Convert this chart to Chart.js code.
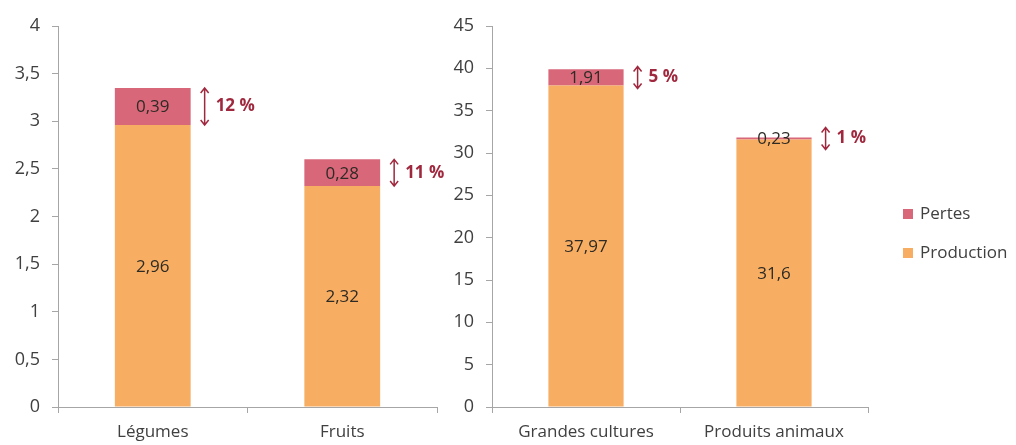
<!DOCTYPE html>
<html>
<head>
<meta charset="utf-8">
<script src="https://cdn.jsdelivr.net/npm/chart.js@4"></script>
<style>
  html, body { margin: 0; padding: 0; background: #fff; }
  #wrap { position: relative; width: 1016px; height: 445px; overflow: hidden; }
  canvas { position: absolute; top: 0; }
</style>
</head>
<body>
<div id="wrap">
  <canvas id="c1" width="462" height="445" style="left:0"></canvas>
  <canvas id="c2" width="576" height="445" style="left:440px"></canvas>
</div>
<script>
// ---- Data ----
const categoriesLeft = ['Légumes', 'Fruits'];
const productionLeft = [2.96, 2.32];
const pertesLeft = [0.39, 0.28];
const pctLeft = ['12 %', '11 %'];
const ticksLeft = { min: 0, max: 4, step: 0.5 };

const categoriesRight = ['Grandes cultures', 'Produits animaux'];
const productionRight = [37.97, 31.6];
const pertesRight = [1.91, 0.23];
const pctRight = ['5 %', '1 %'];
const ticksRight = { min: 0, max: 45, step: 5 };

const seriesLabels = ['Production', 'Pertes'];
const colProduction = '#f7ae63';
const colPertes = '#d9677a';
const colArrow = '#a0283e';
const colText = '#404040';
const FONT = '"Open Sans", Lato, sans-serif';

const fmt = v => String(Math.round(v * 100) / 100).replace('.', ',');

const labelsPlugin = {
  id: 'labelsPlugin',
  afterDatasetsDraw(chart, args, opts) {
    const ctx = chart.ctx;
    ctx.save();
    ctx.font = '17px ' + FONT;
    ctx.fillStyle = '#2e2a24';
    ctx.textAlign = 'center';
    ctx.textBaseline = 'middle';
    chart.data.datasets.forEach((ds, di) => {
      const meta = chart.getDatasetMeta(di);
      meta.data.forEach((el, i) => {
        const cy = (el.y + el.base) / 2;
        ctx.fillText(fmt(ds.data[i]), el.x, cy + 1);
      });
    });
    // arrows + pct
    const metaTop = chart.getDatasetMeta(1);
    metaTop.data.forEach((el, i) => {
      const right = el.x + el.width / 2;
      const ax = right + 14;
      const cy = (el.y + el.base) / 2;
      const half = Math.max((el.base - el.y) / 2, 11);
      const y1 = cy - half, y2 = cy + half;
      ctx.strokeStyle = colArrow;
      ctx.lineWidth = 1.5;
      ctx.beginPath();
      ctx.moveTo(ax, y1 + 1); ctx.lineTo(ax, y2 - 1);
      ctx.moveTo(ax - 4, y1 + 5); ctx.lineTo(ax, y1); ctx.lineTo(ax + 4, y1 + 5);
      ctx.moveTo(ax - 4, y2 - 5); ctx.lineTo(ax, y2); ctx.lineTo(ax + 4, y2 - 5);
      ctx.stroke();
      ctx.fillStyle = colArrow;
      ctx.font = 'bold 17px ' + FONT;
      ctx.textAlign = 'left';
      ctx.fillText(opts.pct[i], ax + 11, cy);
      ctx.font = '17px ' + FONT;
      ctx.fillStyle = '#2e2a24';
      ctx.textAlign = 'center';
    });
    ctx.restore();
  }
};

const legendPlugin = {
  id: 'legendPlugin',
  afterDraw(chart, args, opts) {
    if (!opts.show) return;
    const ctx = chart.ctx;
    ctx.save();
    ctx.font = '17px ' + FONT;
    ctx.textBaseline = 'middle';
    ctx.textAlign = 'left';
    const items = [chart.data.datasets[1], chart.data.datasets[0]];
    const ys = [214, 253];
    items.forEach((ds, k) => {
      ctx.fillStyle = ds.backgroundColor;
      ctx.fillRect(opts.x, ys[k] - 5, 10, 10);
      ctx.fillStyle = colText;
      ctx.fillText(ds.label, opts.x + 17, ys[k]);
    });
    ctx.restore();
  }
};

function makeChart(id, cats, prod, pert, pct, tk, yWidth, padRight, legend) {
  return new Chart(document.getElementById(id), {
    type: 'bar',
    data: {
      labels: cats,
      datasets: [
        { label: seriesLabels[0], data: prod, backgroundColor: colProduction, stack: 's',
          barPercentage: 0.4, categoryPercentage: 1.0 },
        { label: seriesLabels[1], data: pert, backgroundColor: colPertes, stack: 's',
          barPercentage: 0.4, categoryPercentage: 1.0 }
      ]
    },
    options: {
      responsive: false,
      animation: false,
      layout: { padding: { top: 26, left: 0, right: padRight, bottom: 0 } },
      plugins: {
        legend: { display: false },
        tooltip: { enabled: false },
        labelsPlugin: { pct: pct },
        legendPlugin: legend
      },
      scales: {
        x: {
          stacked: true,
          grid: { display: true, drawOnChartArea: false, offset: true, color: '#a6a6a6', tickLength: 6 },
          border: { color: '#a6a6a6', width: 1 },
          ticks: { color: colText, font: { family: FONT, size: 17 }, padding: 9 },
          afterFit(s) { s.height = 38; }
        },
        y: {
          stacked: true,
          min: tk.min, max: tk.max,
          grid: { display: true, drawOnChartArea: false, color: '#a6a6a6', tickLength: 6 },
          border: { color: '#a6a6a6', width: 1 },
          ticks: { stepSize: tk.step, color: colText, font: { family: FONT, size: 18 }, padding: 12,
                   callback: v => fmt(v) },
          afterFit(s) { s.width = yWidth; }
        }
      }
    },
    plugins: [labelsPlugin, legendPlugin]
  });
}

makeChart('c1', categoriesLeft, productionLeft, pertesLeft, pctLeft, ticksLeft, 58, 25, { show: false });
makeChart('c2', categoriesRight, productionRight, pertesRight, pctRight, ticksRight, 52, 148, { show: true, x: 463 });
</script>
</body>
</html>
